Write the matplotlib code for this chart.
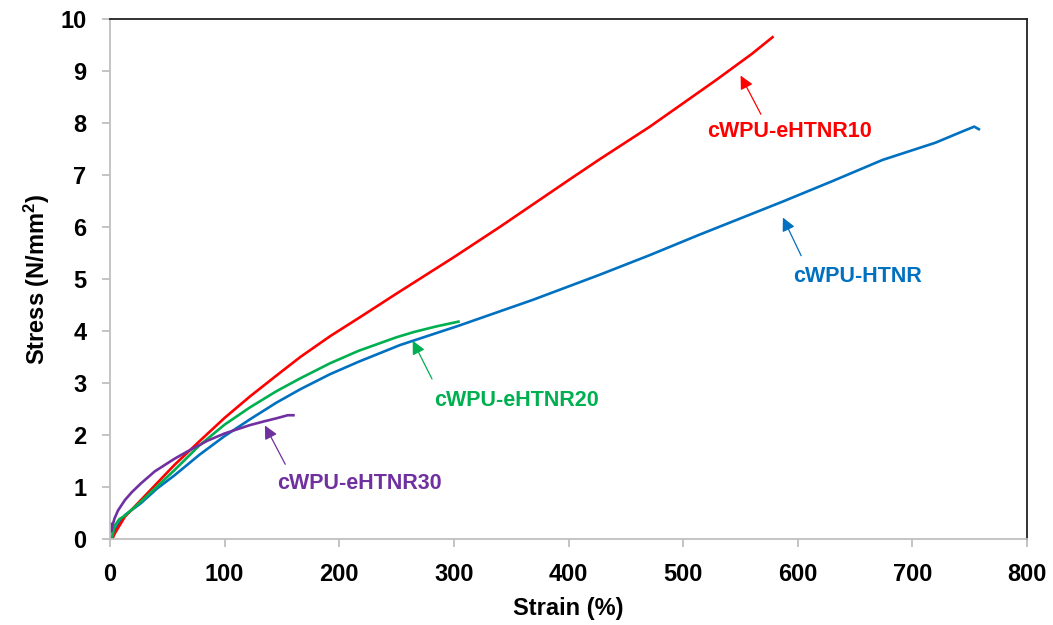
import numpy as np
import matplotlib
matplotlib.use('Agg')
import matplotlib.pyplot as plt

plt.rcParams['font.family'] = ['Liberation Sans', 'DejaVu Sans']
plt.rcParams['font.weight'] = 'bold'
plt.rcParams['mathtext.fontset'] = 'custom'
plt.rcParams['mathtext.rm'] = 'Liberation Sans:bold'
plt.rcParams['mathtext.default'] = 'rm'

# strain (%) / stress (N/mm2)
x_htnr = [0, 2, 4, 8, 13, 27, 41, 56, 78, 100, 122, 145, 166, 192, 217, 253, 304, 369, 427, 471, 514, 587, 630, 674, 720, 745, 754, 758]
y_htnr = [0, 0.03, 0.15, 0.3, 0.46, 0.69, 0.97, 1.22, 1.62, 1.98, 2.3, 2.62, 2.88, 3.17, 3.41, 3.73, 4.1, 4.6, 5.08, 5.46, 5.85, 6.49, 6.88, 7.29, 7.62, 7.85, 7.93, 7.88]

x_e10 = [0, 2, 4, 8, 13, 27, 56, 78, 100, 122, 145, 166, 192, 217, 250, 300, 340, 400, 427, 471, 500, 529, 560, 578]
y_e10 = [0, 0.0, 0.1, 0.25, 0.43, 0.75, 1.42, 1.88, 2.33, 2.74, 3.14, 3.5, 3.9, 4.25, 4.72, 5.42, 6.0, 6.9, 7.3, 7.93, 8.38, 8.83, 9.33, 9.65]

x_e20 = [0, 2, 4, 8, 13, 27, 56, 78, 100, 122, 145, 166, 192, 217, 250, 265, 285, 304]
y_e20 = [0, 0.05, 0.25, 0.38, 0.45, 0.72, 1.32, 1.8, 2.2, 2.53, 2.84, 3.09, 3.38, 3.62, 3.88, 3.98, 4.09, 4.18]

x_e30 = [0, 0.5, 1, 2, 4, 7, 13, 19, 27, 39, 56, 68, 85, 100, 122, 134, 145, 155, 160]
y_e30 = [0.1, 0.3, 0.15, 0.25, 0.4, 0.55, 0.75, 0.9, 1.07, 1.3, 1.54, 1.69, 1.89, 2.03, 2.19, 2.26, 2.32, 2.38, 2.38]

names = ['cWPU-HTNR', 'cWPU-eHTNR10', 'cWPU-eHTNR20', 'cWPU-eHTNR30']
colors = ['#0070C0', '#FF0000', '#00B050', '#7030A0']

fig = plt.figure(figsize=(10.53, 6.25), dpi=100)
ax = fig.add_axes([0.1045, 0.1376, 0.8708, 0.832])

series = [(x_htnr, y_htnr), (x_e10, y_e10), (x_e20, y_e20), (x_e30, y_e30)]
for (xs, ys), c in zip(series, colors):
    ax.plot(xs, ys, color=c, lw=1.9)

# label text position, arrow tail, arrow head (data coords)
notes = [
    ((652, 5.04), (604, 5.40), (586, 6.23)),
    ((593, 7.83), (569, 8.12), (549, 8.96)),
    ((355, 2.67), (282, 3.03), (263, 3.86)),
    ((218, 1.06), (154, 1.39), (134, 2.23)),
]
for name, c, (txt, tail, head) in zip(names, colors, notes):
    ax.annotate('', xy=head, xytext=tail,
                arrowprops=dict(arrowstyle='-|>', color=c, lw=0.9, mutation_scale=20))
    ax.text(txt[0], txt[1], name, color=c, fontsize=15.5, fontweight='bold',
            ha='center', va='center')

ax.set_xlim(0, 800)
ax.set_ylim(0, 10)
ax.set_xticks(np.arange(0, 801, 100))
ax.set_yticks(np.arange(0, 11, 1))

for s in ['left', 'bottom']:
    ax.spines[s].set_color('#BFBFBF')
    ax.spines[s].set_linewidth(1.3)
for s in ['top', 'right']:
    ax.spines[s].set_color('#222222')
    ax.spines[s].set_linewidth(1.3)
ax.tick_params(direction='out', length=6, width=1.3, color='#BFBFBF',
               labelsize=17, pad=11)

ax.set_xlabel('Strain (%)', fontsize=17, fontweight='bold', labelpad=8)
ax.set_ylabel('Stress (N/mm$^2$)', fontsize=17, fontweight='bold', labelpad=6)

plt.savefig('out.png', dpi=100)
